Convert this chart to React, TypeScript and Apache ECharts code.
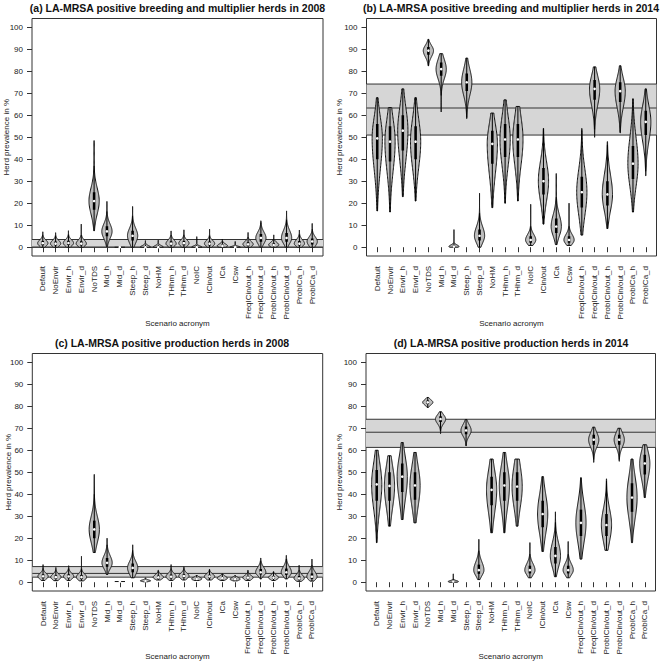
import React, { useEffect, useRef } from 'react';
import * as echarts from 'echarts';

// ---------------- data ----------------
const scenarios = ['Default', 'NoEnvir', 'Envir_h', 'Envir_d', 'NoTDS', 'Mid_h', 'Mid_d', 'Steep_h', 'Steep_d', 'NoHM', 'THhm_h', 'THhm_d', 'NoIC', 'ICin/out', 'ICa', 'ICsw', 'FreqICin/out_h', 'FreqICin/out_d', 'ProbICin/out_h', 'ProbICin/out_d', 'ProbICa_h', 'ProbICa_d'];

const panelTitles = [
  '(a) LA-MRSA positive breeding and multiplier herds in 2008',
  '(b) LA-MRSA positive breeding and multiplier herds in 2014',
  '(c) LA-MRSA positive production herds in 2008',
  '(d) LA-MRSA positive production herds in 2014',
];
const xAxisTitle = 'Scenario acronym';
const yAxisTitle = 'Herd prevalence in %';

// observed prevalence band: [lower CI, observed, upper CI]
const bandA = [0, 0, 3.5];
const bandB = [51, 63.3, 74.2];
const bandC = [2.3, 4.0, 7.1];
const bandD = [61.3, 68.2, 74.1];

// (a) breeding & multiplier 2008
const aMin = [0, 0, 0, 0, 7.5, 0.3, 0, 0, 0, 0, 0, 0, 0, 0, 0, 0, 0, 0, 0, 0, 0, 0];
const aQ1 = [0.9, 0.8, 1, 0.8, 17, 5, 0, 3, 0, 0, 0.8, 0.9, 0, 0.8, 0.2, 0, 0.6, 2.5, 0.5, 2.5, 0.8, 1.2];
const aMed = [1.8, 1.6, 1.9, 1.6, 21, 7.2, 0, 5.2, 0, 0, 1.6, 1.8, 0, 1.6, 0.6, 0, 1.3, 4.2, 1, 4.2, 1.6, 2.6];
const aQ3 = [2.8, 2.6, 2.9, 2.7, 25, 9.5, 0, 7.5, 0.5, 0.5, 2.7, 2.8, 0.4, 2.6, 1.2, 0.3, 2.2, 6, 1.8, 6.5, 2.8, 4];
const aMax = [7, 6.6, 7.5, 10.5, 48.5, 20.8, 0, 18.5, 3, 3.2, 7.4, 7.9, 4.8, 8.2, 3.6, 2.6, 6.7, 12, 5.6, 16.5, 7.8, 10.8];

// (b) breeding & multiplier 2014
const bMin = [16.5, 16, 23, 21, 82.5, 61.5, 0, 58.5, 0, 18, 20, 21, 0.8, 10.5, 1.2, 0.8, 5.5, 50, 8.5, 52, 16, 32.5];
const bQ1 = [40, 39, 44, 40, 87.5, 78, 0, 71, 3, 38, 41, 41, 2, 24, 6.5, 2, 18, 67, 19, 66, 31, 51];
const bMed = [49.5, 48, 53, 48, 89.4, 81, 0.3, 75, 5.2, 47, 49, 49, 3.3, 30, 9.4, 3.3, 25, 72, 24, 71, 38, 57];
const bQ3 = [56, 55, 60, 55, 91, 84, 0.8, 79, 8, 53, 56, 56, 5, 36, 13, 5, 32, 76, 30, 75, 46, 62];
const bMax = [68, 63.5, 72, 68, 94.5, 88, 8, 86, 24.5, 61, 67, 64, 19.5, 54, 33.5, 20, 54, 82, 48, 82.5, 67.5, 72];

// (c) production 2008
const cMin = [0.8, 0.7, 0.8, 0.6, 13.5, 3.5, 0.3, 2, 0.2, 1, 0.8, 1, 0.8, 1, 0.8, 0.6, 0.8, 1.5, 0.8, 1.5, 0.4, 0.5];
const cQ1 = [1.8, 1.5, 1.8, 1.4, 20, 7, 0.3, 4.5, 0.4, 1.6, 1.7, 2, 1.1, 1.8, 1.3, 1, 1.4, 3.5, 1.5, 3.3, 1, 1.5];
const cMed = [2.7, 2.3, 2.6, 2.3, 24, 8.8, 0.3, 6.5, 0.6, 2.2, 2.5, 2.8, 1.5, 2.6, 1.8, 1.4, 2.1, 4.5, 2.1, 4.5, 1.7, 2.5];
const cQ3 = [3.6, 3.2, 3.6, 3.3, 28, 11, 0.3, 8.5, 0.9, 3, 3.5, 3.7, 2, 3.4, 2.4, 1.9, 2.8, 6, 2.8, 6.2, 2.8, 4];
const cMax = [8, 6.7, 7.5, 11.8, 49, 20, 0.3, 17, 2, 5.5, 8, 7, 3, 5.8, 3.8, 3, 5.5, 11, 4.8, 12.2, 7.7, 10.5];

// (d) production 2014
const dMin = [18, 25.5, 28.5, 27, 79.5, 67.5, 0, 62, 1.2, 22.5, 22.5, 25.5, 2, 14, 2.5, 2, 10.5, 54.5, 14.5, 55, 18, 38.5];
const dQ1 = [37, 37, 41, 37.5, 81, 72.8, 0, 67.3, 3.8, 35, 37, 37, 4, 25, 8.5, 4, 21, 62.5, 21, 62.5, 32, 49];
const dMed = [44.5, 43.8, 48, 44, 81.8, 74.2, 0.3, 69, 5.5, 42, 44, 43.5, 5.5, 31, 12, 5.5, 27, 64.8, 26, 64.8, 38.5, 54];
const dQ3 = [51, 50, 54, 50, 82.6, 75.5, 0.6, 70.8, 8, 48, 50, 50, 7.5, 37, 16, 7.5, 33, 67, 31, 67, 45, 58];
const dMax = [60, 57.5, 63.5, 59, 84, 77.5, 3.8, 74, 19.5, 56, 59, 56, 18, 48, 32, 18.5, 47.5, 70.5, 47, 70, 56, 62.5];

const panelStats = [
  { min: aMin, q1: aQ1, med: aMed, q3: aQ3, max: aMax, band: bandA },
  { min: bMin, q1: bQ1, med: bMed, q3: bQ3, max: bMax, band: bandB },
  { min: cMin, q1: cQ1, med: cMed, q3: cQ3, max: cMax, band: bandC },
  { min: dMin, q1: dQ1, med: dMed, q3: dQ3, max: dMax, band: bandD },
];

// ---------------- layout & style ----------------
const layout = [
  { L: 32, T: 18.5, W: 291, H: 237.5, titleX: 177.5, titleY: 7.5, yNameX: 6.5, xNameY: 323.5 },
  { L: 366.5, T: 18.5, W: 290, H: 237.5, titleX: 511, titleY: 8, yNameX: 339.5, xNameY: 323.5 },
  { L: 32.3, T: 353.5, W: 290.4, H: 237.5, titleX: 172, titleY: 342.5, yNameX: 8, xNameY: 656.5 },
  { L: 366, T: 353.5, W: 289.5, H: 237.5, titleX: 511, titleY: 342.5, yNameX: 339, xNameY: 656.5 },
];
const X_MIN = 0.16, X_MAX = 22.84, Y_MIN = -4, Y_MAX = 104;
const VIOLIN_HALF = 0.4;
const BOX_HALF = 0.1;
const FONT = "'Liberation Sans', Arial, sans-serif";
const TEXT_COLOR = '#222';
const LINE_COLOR = '#333';
const VIOLIN_FILL = '#bdbdbd';
const BAND_FILL = '#d6d6d6';

function violinRender(params: any, api: any) {
  const x = api.value(0);
  const mn = api.value(1), q1 = api.value(2), md = api.value(3), q3 = api.value(4), mx = api.value(5);
  const half = api.size([VIOLIN_HALF, 0])[0];
  const boxHalf = api.size([BOX_HALF, 0])[0];
  const cx = api.coord([x, md])[0];
  const Y = (v: number) => api.coord([x, v])[1];
  const children: any[] = [];
  if (mx - mn < 1e-9) {
    children.push({
      type: 'line',
      shape: { x1: cx - half, y1: Y(md), x2: cx + half, y2: Y(md) },
      style: { stroke: '#111', lineWidth: 1 },
    });
  } else {
    const sLo = (md - q1) / 0.674;
    const sHi = (q3 - md) / 0.674;
    const N = 80;
    const vals: number[] = [];
    for (let k = 0; k <= N; k++) vals.push(mn + ((mx - mn) * k) / N);
    vals.push(md);
    vals.sort((p, q) => p - q);
    const prof = vals.map((v) => {
      let w;
      if (v < md) w = sLo > 0 ? Math.exp(-0.5 * ((v - md) / sLo) ** 2) : 0;
      else if (v > md) w = sHi > 0 ? Math.exp(-0.5 * ((v - md) / sHi) ** 2) : 0;
      else w = 1;
      return [w * half, Y(v)];
    });
    const pts: number[][] = [];
    for (let k = 0; k < prof.length; k++) pts.push([cx - prof[k][0], prof[k][1]]);
    for (let k = prof.length - 1; k >= 0; k--) pts.push([cx + prof[k][0], prof[k][1]]);
    children.push({
      type: 'polygon',
      shape: { points: pts },
      style: { fill: VIOLIN_FILL, stroke: '#111', lineWidth: 1 },
    });
    const iqr = q3 - q1;
    const wlo = Math.max(mn, q1 - 1.5 * iqr);
    const whi = Math.min(mx, q3 + 1.5 * iqr);
    children.push({
      type: 'line',
      shape: { x1: cx, y1: Y(wlo), x2: cx, y2: Y(whi) },
      style: { stroke: '#000', lineWidth: 1 },
    });
    if (iqr > 0) {
      children.push({
        type: 'rect',
        shape: { x: cx - boxHalf, y: Y(q3), width: boxHalf * 2, height: Y(q1) - Y(q3) },
        style: { fill: '#000' },
      });
    }
  }
  children.push({
    type: 'circle',
    shape: { cx, cy: Y(md), r: 1.3 },
    style: { fill: '#fff' },
  });
  return { type: 'group', children };
}

function bandRender(params: any, api: any) {
  const cs = params.coordSys;
  const lo = api.value(0), mid = api.value(1), hi = api.value(2);
  const yLo = api.coord([1, lo])[1];
  const yMid = api.coord([1, mid])[1];
  const yHi = api.coord([1, hi])[1];
  const x1 = cs.x, x2 = cs.x + cs.width;
  const ls = { stroke: LINE_COLOR, lineWidth: 1 };
  return {
    type: 'group',
    children: [
      { type: 'rect', shape: { x: x1, y: yHi, width: x2 - x1, height: yLo - yHi }, style: { fill: BAND_FILL } },
      { type: 'line', shape: { x1, y1: yLo, x2, y2: yLo }, style: ls },
      { type: 'line', shape: { x1, y1: yMid, x2, y2: yMid }, style: ls },
      { type: 'line', shape: { x1, y1: yHi, x2, y2: yHi }, style: ls },
    ],
  };
}

function buildOption() {
  const grid: any[] = [];
  const xAxis: any[] = [];
  const yAxis: any[] = [];
  const series: any[] = [];
  const graphic: any[] = [];

  layout.forEach((g, p) => {
    const ux = g.W / (X_MAX - X_MIN);
    const uy = g.H / (Y_MAX - Y_MIN);
    const outer = 2 * p, inner = 2 * p + 1;
    grid.push({
      left: g.L, top: g.T, width: g.W, height: g.H,
      show: true, borderColor: LINE_COLOR, borderWidth: 1, backgroundColor: 'transparent',
      containLabel: false,
    });
    grid.push({
      left: g.L + (0.5 - X_MIN) * ux, top: g.T + (Y_MAX - 100) * uy,
      width: 22 * ux, height: 100 * uy, containLabel: false,
    });
    xAxis.push({ gridIndex: outer, type: 'value', min: X_MIN, max: X_MAX, show: false });
    yAxis.push({ gridIndex: outer, type: 'value', min: Y_MIN, max: Y_MAX, show: false });
    xAxis.push({
      gridIndex: inner, type: 'category', data: scenarios, position: 'bottom',
      boundaryGap: true, offset: (0 - Y_MIN) * uy,
      axisLine: { show: false },
      axisTick: { show: true, alignWithLabel: true, interval: 0, length: 5, lineStyle: { color: LINE_COLOR, width: 1 } },
      axisLabel: { interval: 0, rotate: 90, fontSize: 8, fontFamily: FONT, color: TEXT_COLOR, margin: 10 },
      splitLine: { show: false },
    });
    yAxis.push({
      gridIndex: inner, type: 'value', min: 0, max: 100, interval: 10, position: 'left',
      offset: (0.5 - X_MIN) * ux,
      axisLine: { show: false },
      axisTick: { show: true, length: 5, lineStyle: { color: LINE_COLOR, width: 1 } },
      axisLabel: { fontSize: 8, fontFamily: FONT, color: TEXT_COLOR, margin: 9 },
      splitLine: { show: false },
    });

    const st = panelStats[p];
    series.push({
      type: 'custom', xAxisIndex: outer, yAxisIndex: outer,
      renderItem: bandRender, data: [st.band], clip: true, silent: true, z: 1,
    });
    series.push({
      type: 'custom', xAxisIndex: outer, yAxisIndex: outer,
      renderItem: violinRender,
      data: scenarios.map((_, i) => [i + 1, st.min[i], st.q1[i], st.med[i], st.q3[i], st.max[i]]),
      clip: true, silent: true, z: 2,
    });

    graphic.push({
      type: 'text', x: g.titleX, y: g.titleY,
      style: { text: panelTitles[p], font: `bold 10.5px ${FONT}`, fill: '#111', align: 'center', verticalAlign: 'middle' },
    });
    graphic.push({
      type: 'text', x: g.L + g.W / 2, y: g.xNameY,
      style: { text: xAxisTitle, font: `8px ${FONT}`, fill: TEXT_COLOR, align: 'center', verticalAlign: 'middle' },
    });
    graphic.push({
      type: 'text', x: g.yNameX, y: g.T + g.H / 2, rotation: Math.PI / 2,
      style: { text: yAxisTitle, font: `8px ${FONT}`, fill: TEXT_COLOR, align: 'center', verticalAlign: 'middle' },
    });
  });

  return {
    animation: false,
    backgroundColor: '#ffffff',
    grid, xAxis, yAxis, series, graphic,
  };
}

export default function App() {
  const ref = useRef<HTMLDivElement>(null);
  useEffect(() => {
    if (!ref.current) return;
    const chart = echarts.init(ref.current, undefined, { renderer: 'svg' });
    chart.setOption(buildOption() as any);
    return () => chart.dispose();
  }, []);
  return (
    <div
      ref={ref}
      style={{ position: 'fixed', left: 0, top: 0, width: 660, height: 664, background: '#fff' }}
    />
  );
}
